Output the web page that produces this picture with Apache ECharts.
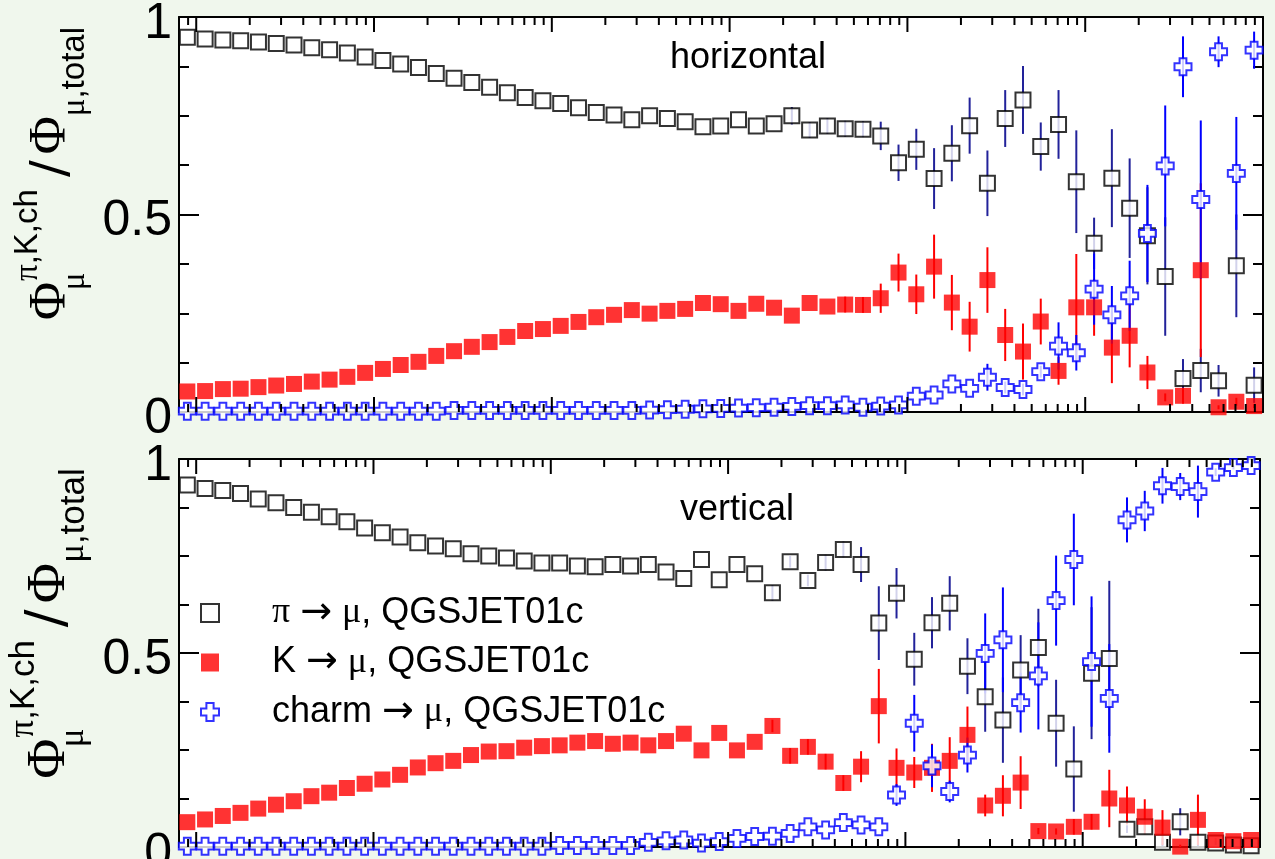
<!DOCTYPE html>
<html lang="en">
<head>
<meta charset="utf-8">
<title>muon parent fractions</title>
<script src="https://cdn.jsdelivr.net/npm/echarts@6.0.0/dist/echarts.min.js"></script>
</head>
<body style="margin:0; background:#f0f7ed;">
<div id="container" style="width:1275px; height:859px;"></div>
<script>
// bin centres, log10(E); 10 bins per decade
const binLog10E = [
  1.95, 2.05, 2.15, 2.25, 2.35, 2.45, 2.55, 2.65, 2.75, 2.85,
  2.95, 3.05, 3.15, 3.25, 3.35, 3.45, 3.55, 3.65, 3.75, 3.85,
  3.95, 4.05, 4.15, 4.25, 4.35, 4.45, 4.55, 4.65, 4.75, 4.85,
  4.95, 5.05, 5.15, 5.25, 5.35, 5.45, 5.55, 5.65, 5.75, 5.85,
  5.95, 6.05, 6.15, 6.25, 6.35, 6.45, 6.55, 6.65, 6.75, 6.85,
  6.95, 7.05, 7.15, 7.25, 7.35, 7.45, 7.55, 7.65, 7.75, 7.85,
  7.95
];

// horizontal
const piHor = [
  0.949, 0.944, 0.942, 0.940, 0.937, 0.933, 0.929, 0.922, 0.917, 0.909,
  0.899, 0.890, 0.881, 0.872, 0.857, 0.845, 0.834, 0.822, 0.808, 0.796,
  0.788, 0.781, 0.770, 0.758, 0.752, 0.740, 0.750, 0.743, 0.735, 0.722,
  0.724, 0.740, 0.724, 0.730, 0.750, 0.714, 0.724, 0.717, 0.716, 0.699,
  0.631, 0.665, 0.591, 0.655, 0.725, 0.579, 0.743, 0.790, 0.672, 0.728,
  0.583, 0.427, 0.592, 0.516, 0.446, 0.343, 0.085, 0.105, 0.079, 0.370,
  0.068
];
const piHorErr = [
  0, 0, 0, 0, 0, 0, 0, 0, 0, 0,
  0, 0, 0, 0, 0, 0, 0, 0, 0, 0,
  0, 0, 0, 0, 0, 0, 0, 0, 0, 0,
  0, 0, 0, 0, 0.022, 0.02, 0.02, 0.02, 0.02, 0.036,
  0.046, 0.052, 0.077, 0.071, 0.071, 0.083, 0.072, 0.086, 0.061, 0.087,
  0.130, 0.065, 0.124, 0.126, 0.123, 0.150, 0.049, 0.055, 0.040, 0.130,
  0.045
];
const kHor = [
  0.052, 0.053, 0.058, 0.059, 0.063, 0.067, 0.071, 0.077, 0.082, 0.089,
  0.099, 0.109, 0.119, 0.127, 0.142, 0.154, 0.165, 0.177, 0.190, 0.205,
  0.210, 0.218, 0.228, 0.240, 0.246, 0.258, 0.249, 0.256, 0.261, 0.276,
  0.273, 0.256, 0.274, 0.264, 0.244, 0.276, 0.267, 0.272, 0.271, 0.288,
  0.353, 0.298, 0.368, 0.277, 0.216, 0.334, 0.195, 0.153, 0.229, 0.104,
  0.265, 0.265, 0.163, 0.193, 0.100, 0.037, 0.041, 0.359, 0.012, 0.026,
  0.015
];
const kHorErr = [
  0, 0, 0, 0, 0, 0, 0, 0, 0, 0,
  0, 0, 0, 0, 0, 0, 0, 0, 0, 0,
  0, 0, 0, 0, 0, 0, 0, 0, 0, 0,
  0, 0, 0, 0, 0, 0, 0, 0.02, 0.02, 0.037,
  0.048, 0.050, 0.081, 0.070, 0.063, 0.083, 0.066, 0.071, 0.058, 0.035,
  0.135, 0.072, 0.090, 0.080, 0.042, 0.010, 0.020, 0.220, 0.005, 0.010,
  0.005
];
const charmHor = [
  0.002, 0.002, 0.002, 0.002, 0.002, 0.002, 0.002, 0.002, 0.002, 0.002,
  0.002, 0.002, 0.002, 0.002, 0.002, 0.004, 0.004, 0.004, 0.004, 0.004,
  0.004, 0.004, 0.004, 0.004, 0.004, 0.004, 0.005, 0.006, 0.007, 0.008,
  0.009, 0.010, 0.011, 0.012, 0.014, 0.016, 0.016, 0.018, 0.012, 0.015,
  0.018, 0.040, 0.043, 0.071, 0.060, 0.088, 0.062, 0.057, 0.102, 0.167,
  0.150, 0.311, 0.246, 0.294, 0.452, 0.623, 0.874, 0.538, 0.912, 0.604,
  0.916
];
const charmHorErr = [
  0, 0, 0, 0, 0, 0, 0, 0, 0, 0,
  0, 0, 0, 0, 0, 0, 0, 0, 0, 0,
  0, 0, 0, 0, 0, 0, 0, 0, 0, 0,
  0, 0, 0, 0, 0, 0, 0, 0, 0, 0,
  0, 0, 0, 0, 0, 0.034, 0.015, 0.015, 0.015, 0.060,
  0.045, 0.090, 0.073, 0.089, 0.123, 0.153, 0.077, 0.200, 0.039, 0.143,
  0.047
];

// vertical
const piVer = [
  0.933, 0.924, 0.919, 0.911, 0.897, 0.887, 0.875, 0.863, 0.851, 0.838,
  0.822, 0.810, 0.799, 0.784, 0.776, 0.769, 0.756, 0.750, 0.745, 0.737,
  0.732, 0.732, 0.724, 0.722, 0.728, 0.724, 0.728, 0.709, 0.692, 0.741,
  0.689, 0.728, 0.704, 0.655, 0.735, 0.687, 0.733, 0.767, 0.728, 0.577,
  0.654, 0.484, 0.578, 0.628, 0.466, 0.387, 0.327, 0.456, 0.514, 0.319,
  0.201, 0.448, 0.486, 0.046, 0.052, 0.012, 0.065, 0.012, 0.010, 0.005,
  0.003
];
const piVerErr = [
  0, 0, 0, 0, 0, 0, 0, 0, 0, 0,
  0, 0, 0, 0, 0, 0, 0, 0, 0, 0,
  0, 0, 0, 0, 0, 0, 0, 0, 0, 0,
  0, 0, 0, 0.020, 0.015, 0.015, 0.020, 0.020, 0.045, 0.095,
  0.065, 0.068, 0.066, 0.070, 0.072, 0.090, 0.110, 0.090, 0.100, 0.112,
  0.110, 0.170, 0.200, 0.010, 0.010, 0.010, 0.035, 0.010, 0.005, 0.005,
  0.005
];
const kVer = [
  0.064, 0.071, 0.080, 0.088, 0.099, 0.109, 0.118, 0.131, 0.140, 0.152,
  0.163, 0.174, 0.186, 0.205, 0.216, 0.222, 0.237, 0.246, 0.247, 0.256,
  0.260, 0.262, 0.269, 0.273, 0.266, 0.269, 0.262, 0.273, 0.292, 0.249,
  0.294, 0.249, 0.271, 0.312, 0.235, 0.258, 0.220, 0.165, 0.207, 0.363,
  0.204, 0.192, 0.204, 0.222, 0.289, 0.107, 0.132, 0.166, 0.041, 0.040,
  0.052, 0.065, 0.125, 0.107, 0.078, 0.050, 0.001, 0.070, 0.018, 0.015,
  0.018
];
const kVerErr = [
  0, 0, 0, 0, 0, 0, 0, 0, 0, 0,
  0, 0, 0, 0, 0, 0, 0, 0, 0, 0,
  0, 0, 0, 0, 0, 0, 0, 0, 0, 0,
  0, 0, 0, 0.016, 0.020, 0.020, 0.020, 0.020, 0.040, 0.096,
  0.050, 0.040, 0.062, 0.061, 0.073, 0.028, 0.053, 0.068, 0.008, 0.008,
  0.020, 0.020, 0.074, 0.049, 0.045, 0.045, 0.005, 0.065, 0.005, 0.005,
  0.005
];
const charmVer = [
  0.002, 0.002, 0.002, 0.002, 0.002, 0.002, 0.002, 0.002, 0.002, 0.002,
  0.002, 0.002, 0.002, 0.002, 0.002, 0.002, 0.002, 0.002, 0.002, 0.002,
  0.002, 0.004, 0.004, 0.004, 0.004, 0.004, 0.012, 0.016, 0.018, 0.010,
  0.014, 0.022, 0.027, 0.028, 0.035, 0.052, 0.044, 0.063, 0.057, 0.052,
  0.134, 0.319, 0.209, 0.143, 0.237, 0.499, 0.534, 0.372, 0.441, 0.635,
  0.741, 0.478, 0.383, 0.843, 0.866, 0.931, 0.929, 0.916, 0.966, 0.978,
  0.983
];
const charmVerErr = [
  0, 0, 0, 0, 0, 0, 0, 0, 0, 0,
  0, 0, 0, 0, 0, 0, 0, 0, 0, 0,
  0, 0, 0, 0, 0, 0, 0, 0, 0, 0,
  0, 0, 0, 0, 0, 0, 0, 0, 0, 0,
  0.028, 0.073, 0.055, 0.028, 0.045, 0.103, 0.135, 0.077, 0.138, 0.116,
  0.118, 0.168, 0.140, 0.058, 0.052, 0.046, 0.035, 0.067, 0.010, 0.005,
  0.005
];

const decadeTicks = [1e2, 1e3, 1e4, 1e5, 1e6, 1e7];
const panelTitles = ['horizontal', 'vertical'];
const NAME_PI = 'π → μ, QGSJET01c';
const NAME_K = 'K → μ, QGSJET01c';
const NAME_C = 'charm → μ, QGSJET01c';

const energy = binLog10E.map(function (v) { return Math.pow(10, v); });
const crossPath = 'path://M3,0H7V3H10V7H7V10H3V7H0V3H3Z';
const black = {color: '#000', width: 2};

// x tick marks: decades plus 2..9 in between, and 0.9 at the left end
var xTicks = [[90, 0]];
decadeTicks.forEach(function (d) {
  xTicks.push([d, 1]);
  for (var m = 2; m <= 9; m++) xTicks.push([d * m, 0]);
});

function pts(vals) {
  return vals.map(function (v, i) { return [energy[i], v]; });
}
function bars(vals, errs) {
  var out = [];
  vals.forEach(function (v, i) {
    if (errs[i] > 0) out.push([energy[i], Math.max(0, v - errs[i]), Math.min(1, v + errs[i])]);
  });
  return out;
}
function barRenderer(color) {
  return function (params, api) {
    var a = api.coord([api.value(0), api.value(1)]);
    var b = api.coord([api.value(0), api.value(2)]);
    return {type: 'line', shape: {x1: a[0], y1: a[1], x2: b[0], y2: b[1]},
      style: {stroke: color, lineWidth: 2}};
  };
}
function tickItem(params, api) {
  var x = api.coord([api.value(0), 0.5])[0];
  var cs = params.coordSys;
  var len = api.value(1) ? 15 : 8;
  var st = {stroke: '#000', lineWidth: 2};
  return {type: 'group', children: [
    {type: 'line', shape: {x1: x, y1: cs.y, x2: x, y2: cs.y + len}, style: st},
    {type: 'line', shape: {x1: x, y1: cs.y + cs.height, x2: x, y2: cs.y + cs.height - len}, style: st}
  ]};
}

function nameRich(s) {
  var serif = 'Liberation Serif', sans = 'Liberation Sans';
  return {
    F: {fontFamily: serif, fontSize: 52 * s, lineHeight: 80 * s, color: '#000'},
    sl: {fontFamily: 'DejaVu Sans', fontSize: 50 * s, lineHeight: 80 * s, color: '#000', padding: [0, 6 * s, 0, 12 * s]},
    supg: {fontFamily: serif, fontSize: 33 * s, lineHeight: 32 * s, verticalAlign: 'top', color: '#000'},
    sup: {fontFamily: sans, fontSize: 33 * s, lineHeight: 32 * s, verticalAlign: 'top', color: '#000'},
    subg: {fontFamily: serif, fontSize: 33 * s, lineHeight: 42 * s, verticalAlign: 'bottom', width: 1, color: '#000'},
    subg2: {fontFamily: serif, fontSize: 33 * s, lineHeight: 42 * s, verticalAlign: 'bottom', color: '#000'},
    sub: {fontFamily: sans, fontSize: 33 * s, lineHeight: 42 * s, verticalAlign: 'bottom', color: '#000'}
  };
}
const yName = '{F|Φ}{subg|μ}{supg|π}{sup|,K,ch}{sl|/}{F|Φ}{subg2|μ}{sub|,total}';

function xAxes(grid, pos) {
  return {gridIndex: grid, type: 'log', logBase: 10, min: 80, max: 1e8, position: pos,
    axisLine: {onZero: false, lineStyle: black}, axisTick: {show: false},
    axisLabel: {show: false}, splitLine: {show: false}};
}
function yAxes(grid, pos, nameGap, pad, s) {
  var ax = {gridIndex: grid, type: 'value', min: 0, max: 1, interval: 0.5, position: pos,
    axisLine: {show: true, onZero: false, lineStyle: black},
    axisTick: {inside: true, length: 20, lineStyle: black},
    minorTick: {show: true, splitNumber: 4, length: 10, lineStyle: black},
    splitLine: {show: false}, minorSplitLine: {show: false},
    axisLabel: {show: pos === 'left', margin: 7,
      formatter: function (v) { return '{n|' + v + '}'; },
      rich: {n: {fontSize: 50, fontFamily: 'Liberation Sans', color: '#000', padding: [14, 0, 0, 0]}}}};
  if (pos === 'left') {
    ax.name = yName;
    ax.nameLocation = 'middle';
    ax.nameRotate = 90;
    ax.nameGap = nameGap;
    ax.nameTextStyle = {rich: nameRich(s), padding: [0, 0, 0, pad]};
  }
  return ax;
}

function panelSeries(g, pi, piE, k, kE, ch, chE) {
  var list = [
    {type: 'custom', renderItem: barRenderer('#22229a'), data: bars(pi, piE), encode: {x: 0, y: [1, 2]}, z: 2},
    {type: 'custom', renderItem: barRenderer('#ff0000'), data: bars(k, kE), encode: {x: 0, y: [1, 2]}, z: 2},
    {type: 'custom', renderItem: barRenderer('#0000ff'), data: bars(ch, chE), encode: {x: 0, y: [1, 2]}, z: 2},
    {type: 'scatter', name: NAME_PI, data: pts(pi), symbol: 'rect', symbolSize: 15, z: 3,
      itemStyle: {color: '#fff', borderColor: '#000', borderWidth: 2}},
    {type: 'scatter', name: NAME_K, data: pts(k), symbol: 'rect', symbolSize: 16, z: 4,
      itemStyle: {color: '#ff0000'}},
    {type: 'scatter', name: NAME_C, data: pts(ch), symbol: crossPath, symbolSize: 17, z: 5,
      itemStyle: {color: '#fff', borderColor: '#0000ff', borderWidth: 2}},
    {type: 'custom', renderItem: tickItem, data: xTicks, z: 6}
  ];
  list.forEach(function (s) {
    s.xAxisIndex = g * 2;
    s.yAxisIndex = g * 2;
    s.silent = true;
  });
  return list;
}

function legendText(n) {
  return '{sp| }' + n.split(/([πμ→])/).map(function (s) {
    if (!s) return '';
    if (s === '→') return '{a|→}';
    return /[πμ]/.test(s) ? '{g|' + s + '}' : '{t|' + s + '}';
  }).join('');
}

var myChart = echarts.init(document.getElementById('container'));
var titleStyle = {fontSize: 36, fontWeight: 'normal', fontFamily: 'Liberation Sans', color: '#000'};
var option = {
  backgroundColor: '#f0f7ed',
  animation: false,
  title: [
    {text: panelTitles[0], left: 670, top: 40, padding: 0, textStyle: titleStyle},
    {text: panelTitles[1], left: 680, top: 492, padding: 0, textStyle: titleStyle}
  ],
  grid: [
    {left: 179, top: 17, width: 1084, height: 395, show: true, backgroundColor: '#fff', borderWidth: 0,
      outerBoundsMode: 'none'},
    {left: 179, top: 459, width: 1081, height: 388, show: true, backgroundColor: '#fff', borderWidth: 0,
      outerBoundsMode: 'none'}
  ],
  xAxis: [xAxes(0, 'bottom'), xAxes(0, 'top'), xAxes(1, 'bottom'), xAxes(1, 'top')],
  yAxis: [yAxes(0, 'left', 79.5, 82, 1), yAxes(0, 'right'), yAxes(1, 'left', 82, 59, 1.06), yAxes(1, 'right')],
  legend: {
    orient: 'vertical', left: 200, top: 593, padding: 0, itemGap: 9.5,
    itemWidth: 18, itemHeight: 18, selectedMode: false,
    data: [
      {name: NAME_PI, icon: 'rect', itemStyle: {color: '#fff', borderColor: '#000', borderWidth: 2}},
      {name: NAME_K, icon: 'rect', itemStyle: {color: '#ff0000', borderWidth: 0}},
      {name: NAME_C, icon: crossPath, itemStyle: {color: '#fff', borderColor: '#0000ff', borderWidth: 2}}
    ],
    formatter: legendText,
    textStyle: {fontSize: 36, fontFamily: 'Liberation Sans', color: '#000', lineHeight: 40,
      rich: {
        sp: {width: 48, fontSize: 36, lineHeight: 40},
        t: {fontSize: 36, fontFamily: 'Liberation Sans', color: '#000', lineHeight: 40},
        a: {fontSize: 38, fontFamily: 'DejaVu Sans', color: '#000', lineHeight: 40},
        g: {fontSize: 36, fontFamily: 'Liberation Serif', color: '#000', lineHeight: 40}
      }}
  },
  series: panelSeries(0, piHor, piHorErr, kHor, kHorErr, charmHor, charmHorErr)
    .concat(panelSeries(1, piVer, piVerErr, kVer, kVerErr, charmVer, charmVerErr))
};
myChart.setOption(option);
</script>
</body>
</html>
